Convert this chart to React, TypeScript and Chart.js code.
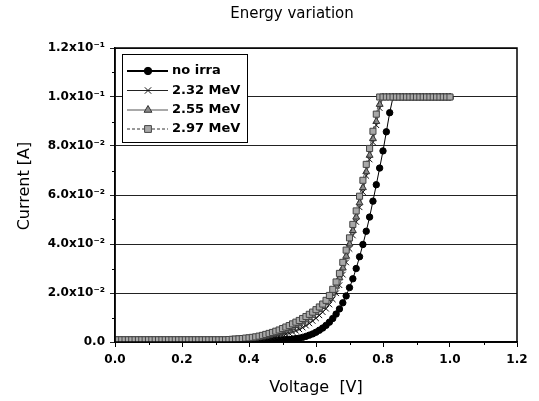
import React, { useEffect, useRef } from "react";
import { Chart, registerables } from "chart.js";
import { drawPoint } from "chart.js/helpers";

Chart.register(...registerables);

const chartTitle = "Energy variation";
const xTitle = "Voltage  [V]";
const yTitle = "Current [A]";

const voltage = [
  0.00, 0.01, 0.02, 0.03, 0.04, 0.05, 0.06, 0.07, 0.08, 0.09,
  0.10, 0.11, 0.12, 0.13, 0.14, 0.15, 0.16, 0.17, 0.18, 0.19,
  0.20, 0.21, 0.22, 0.23, 0.24, 0.25, 0.26, 0.27, 0.28, 0.29,
  0.30, 0.31, 0.32, 0.33, 0.34, 0.35, 0.36, 0.37, 0.38, 0.39,
  0.40, 0.41, 0.42, 0.43, 0.44, 0.45, 0.46, 0.47, 0.48, 0.49,
  0.50, 0.51, 0.52, 0.53, 0.54, 0.55, 0.56, 0.57, 0.58, 0.59,
  0.60, 0.61, 0.62, 0.63, 0.64, 0.65, 0.66, 0.67, 0.68, 0.69,
  0.70, 0.71, 0.72, 0.73, 0.74, 0.75, 0.76, 0.77, 0.78, 0.79,
  0.80, 0.81, 0.82, 0.83, 0.84, 0.85, 0.86, 0.87, 0.88, 0.89,
  0.90, 0.91, 0.92, 0.93, 0.94, 0.95, 0.96, 0.97, 0.98, 0.99,
  1.00,
];

const noIrra = [
  0.0006, 0.0006, 0.0006, 0.0006, 0.0006, 0.0006, 0.0006, 0.0006, 0.0006, 0.0006,
  0.0006, 0.0006, 0.0006, 0.0006, 0.0006, 0.0006, 0.0006, 0.0006, 0.0006, 0.0006,
  0.0006, 0.0006, 0.0006, 0.0006, 0.0006, 0.0006, 0.0006, 0.0006, 0.0006, 0.0006,
  0.0006, 0.0006, 0.0006, 0.0006, 0.0006, 0.0006, 0.0006, 0.0006, 0.0006, 0.0006,
  0.0006, 0.0006, 0.0006, 0.0006, 0.0006, 0.0006, 0.0007, 0.0007, 0.0008, 0.0008,
  0.0009, 0.0010, 0.0011, 0.0012, 0.0014, 0.0016, 0.0019, 0.0023, 0.0028, 0.0033,
  0.0040, 0.0048, 0.0057, 0.0068, 0.0081, 0.0096, 0.0114, 0.0135, 0.0160, 0.0188,
  0.0222, 0.0258, 0.0300, 0.0348, 0.0398, 0.0452, 0.0510, 0.0575, 0.0642, 0.0710,
  0.0780, 0.0858, 0.0936, 0.1, 0.1, 0.1, 0.1, 0.1, 0.1, 0.1,
  0.1, 0.1, 0.1, 0.1, 0.1, 0.1, 0.1, 0.1, 0.1, 0.1,
  0.1,
];

const mev232 = [
  0.0007, 0.0007, 0.0007, 0.0007, 0.0007, 0.0007, 0.0007, 0.0007, 0.0007, 0.0007,
  0.0007, 0.0007, 0.0007, 0.0007, 0.0007, 0.0007, 0.0007, 0.0007, 0.0007, 0.0007,
  0.0007, 0.0007, 0.0007, 0.0007, 0.0007, 0.0007, 0.0007, 0.0007, 0.0007, 0.0007,
  0.0007, 0.0007, 0.0007, 0.0007, 0.0007, 0.0007, 0.0008, 0.0008, 0.0009, 0.0009,
  0.0010, 0.0011, 0.0012, 0.0013, 0.0014, 0.0016, 0.0018, 0.0020, 0.0022, 0.0025,
  0.0028, 0.0032, 0.0036, 0.0041, 0.0046, 0.0052, 0.0059, 0.0067, 0.0076, 0.0086,
  0.0097, 0.0109, 0.0122, 0.0136, 0.0153, 0.0174, 0.0199, 0.0232, 0.0275, 0.0325,
  0.0380, 0.0435, 0.0490, 0.0550, 0.0612, 0.0678, 0.0745, 0.0815, 0.0885, 0.0955,
  0.1, 0.1, 0.1, 0.1, 0.1, 0.1, 0.1, 0.1, 0.1, 0.1,
  0.1, 0.1, 0.1, 0.1, 0.1, 0.1, 0.1, 0.1, 0.1, 0.1,
  0.1,
];

const mev255 = [
  0.0008, 0.0008, 0.0008, 0.0008, 0.0008, 0.0008, 0.0008, 0.0008, 0.0008, 0.0008,
  0.0008, 0.0008, 0.0008, 0.0008, 0.0008, 0.0008, 0.0008, 0.0008, 0.0008, 0.0008,
  0.0008, 0.0008, 0.0008, 0.0008, 0.0008, 0.0008, 0.0008, 0.0008, 0.0008, 0.0008,
  0.0008, 0.0008, 0.0008, 0.0008, 0.0008, 0.0009, 0.0009, 0.0010, 0.0011, 0.0012,
  0.0013, 0.0014, 0.0016, 0.0018, 0.0020, 0.0023, 0.0026, 0.0030, 0.0034, 0.0038,
  0.0043, 0.0048, 0.0054, 0.0060, 0.0067, 0.0074, 0.0082, 0.0090, 0.0099, 0.0109,
  0.0120, 0.0132, 0.0145, 0.0160, 0.0178, 0.0200, 0.0228, 0.0262, 0.0302, 0.0350,
  0.0400, 0.0455, 0.0510, 0.0568, 0.0630, 0.0695, 0.0762, 0.0830, 0.0900, 0.0970,
  0.1, 0.1, 0.1, 0.1, 0.1, 0.1, 0.1, 0.1, 0.1, 0.1,
  0.1, 0.1, 0.1, 0.1, 0.1, 0.1, 0.1, 0.1, 0.1, 0.1,
  0.1,
];

const mev297 = [
  0.0009, 0.0009, 0.0009, 0.0009, 0.0009, 0.0009, 0.0009, 0.0009, 0.0009, 0.0009,
  0.0009, 0.0009, 0.0009, 0.0009, 0.0009, 0.0009, 0.0009, 0.0009, 0.0009, 0.0009,
  0.0009, 0.0009, 0.0009, 0.0009, 0.0009, 0.0009, 0.0009, 0.0009, 0.0009, 0.0009,
  0.0009, 0.0009, 0.0009, 0.0009, 0.0010, 0.0011, 0.0012, 0.0013, 0.0014, 0.0016,
  0.0017, 0.0019, 0.0021, 0.0024, 0.0027, 0.0031, 0.0035, 0.0039, 0.0044, 0.0049,
  0.0055, 0.0061, 0.0067, 0.0074, 0.0081, 0.0088, 0.0096, 0.0104, 0.0113, 0.0122,
  0.0132, 0.0143, 0.0155, 0.0170, 0.0190, 0.0215, 0.0245, 0.0280, 0.0325, 0.0375,
  0.0425, 0.0480, 0.0535, 0.0595, 0.0660, 0.0725, 0.0790, 0.0860, 0.0930, 0.1,
  0.1, 0.1, 0.1, 0.1, 0.1, 0.1, 0.1, 0.1, 0.1, 0.1,
  0.1, 0.1, 0.1, 0.1, 0.1, 0.1, 0.1, 0.1, 0.1, 0.1,
  0.1,
];

const seriesNames = ["no irra", "2.32 MeV", "2.55 MeV", "2.97 MeV"];

const xTickLabels = ["0.0", "0.2", "0.4", "0.6", "0.8", "1.0", "1.2"];
const yTickLabels = [
  "0.0",
  "2.0x10\u207B\u00B2",
  "4.0x10\u207B\u00B2",
  "6.0x10\u207B\u00B2",
  "8.0x10\u207B\u00B2",
  "1.0x10\u207B\u00B9",
  "1.2x10\u207B\u00B9",
];

const toPoints = (ys: number[]) => voltage.map((v, i) => ({ x: v, y: ys[i] }));

const decorPlugin = {
  id: "decor",
  afterDraw(chart: any) {
    const { ctx, chartArea } = chart;
    const xs = chart.scales.x;
    const ys = chart.scales.y;
    ctx.save();
    // frame
    ctx.strokeStyle = "#000";
    ctx.lineWidth = 1.5;
    ctx.strokeRect(chartArea.left, chartArea.top, chartArea.right - chartArea.left, chartArea.bottom - chartArea.top);
    // minor ticks
    ctx.lineWidth = 1;
    for (let k = 1; k < 12; k += 2) {
      const v = k * 0.1;
      const px = Math.round(xs.getPixelForValue(v)) + 0.5;
      ctx.beginPath();
      ctx.moveTo(px, chartArea.bottom);
      ctx.lineTo(px, chartArea.bottom + 3);
      ctx.stroke();
    }
    for (let k = 1; k < 12; k += 2) {
      const v = k * 0.01;
      const py = Math.round(ys.getPixelForValue(v)) + 0.5;
      ctx.beginPath();
      ctx.moveTo(chartArea.left - 3, py);
      ctx.lineTo(chartArea.left, py);
      ctx.stroke();
    }
    // title
    ctx.fillStyle = "#000";
    ctx.font = '15px "DejaVu Sans"';
    ctx.textAlign = "center";
    ctx.textBaseline = "middle";
    ctx.fillText(chartTitle, 292, 14);

    // y axis title
    ctx.save();
    ctx.translate(25, 186);
    ctx.rotate(-Math.PI / 2);
    ctx.font = '16px "DejaVu Sans"';
    ctx.fillText(yTitle, 0, 0);
    ctx.restore();

    // legend
    const lx = 122, ly = 54, lw = 125, lh = 88;
    ctx.fillStyle = "#fff";
    ctx.fillRect(lx, ly, lw, lh);
    ctx.strokeStyle = "#000";
    ctx.lineWidth = 1;
    ctx.strokeRect(lx + 0.5, ly + 0.5, lw, lh);
    const rows = [71, 90.5, 110, 129];
    chart.data.datasets.forEach((ds: any, i: number) => {
      const y = rows[i];
      ctx.save();
      ctx.strokeStyle = ds.borderColor;
      ctx.lineWidth = ds.legendLineWidth;
      ctx.setLineDash(ds.borderDash || []);
      ctx.beginPath();
      ctx.moveTo(127, y);
      ctx.lineTo(168, y);
      ctx.stroke();
      ctx.restore();
      ctx.save();
      ctx.fillStyle = ds.pointBackgroundColor;
      ctx.strokeStyle = ds.pointBorderColor;
      ctx.lineWidth = ds.pointBorderWidth;
      drawPoint(ctx, { pointStyle: ds.pointStyle, radius: ds.pointRadius + 0.5, rotation: 0, borderWidth: ds.pointBorderWidth } as any, 148, y);
      ctx.restore();
      ctx.fillStyle = "#000";
      ctx.font = 'bold 13px "DejaVu Sans"';
      ctx.textAlign = "left";
      ctx.textBaseline = "middle";
      ctx.fillText(ds.label, 172, y);
    });
    ctx.restore();
  },
};

export default function App() {
  const ref = useRef<HTMLCanvasElement | null>(null);
  useEffect(() => {
    document.body.style.margin = "0";
    const canvas = ref.current;
    if (!canvas) return;
    const chart = new Chart(canvas, {
      type: "scatter",
      data: {
        datasets: [
          {
            label: seriesNames[0],
            data: toPoints(noIrra),
            showLine: true,
            borderColor: "#000",
            borderWidth: 1,
            legendLineWidth: 2,
            pointStyle: "circle",
            pointRadius: 3.2,
            pointBackgroundColor: "#000",
            pointBorderColor: "#000",
            pointBorderWidth: 1,
            order: 4,
          } as any,
          {
            label: seriesNames[1],
            data: toPoints(mev232),
            showLine: true,
            borderColor: "#222",
            borderWidth: 0.8,
            legendLineWidth: 1,
            pointStyle: "crossRot",
            pointRadius: 4,
            pointBackgroundColor: "#000",
            pointBorderColor: "#111",
            pointBorderWidth: 1,
            order: 3,
          } as any,
          {
            label: seriesNames[2],
            data: toPoints(mev255),
            showLine: true,
            borderColor: "#555",
            borderWidth: 0.8,
            legendLineWidth: 1,
            pointStyle: "triangle",
            pointRadius: 4,
            pointBackgroundColor: "#8a8a8a",
            pointBorderColor: "#333",
            pointBorderWidth: 1,
            order: 2,
          } as any,
          {
            label: seriesNames[3],
            data: toPoints(mev297),
            showLine: true,
            borderColor: "#333",
            borderWidth: 0.8,
            borderDash: [3, 2],
            legendLineWidth: 1,
            pointStyle: "rect",
            pointRadius: 4.3,
            pointBackgroundColor: "#a8a8a8",
            pointBorderColor: "#444",
            pointBorderWidth: 1,
            order: 1,
          } as any,
        ],
      },
      options: {
        animation: false,
        responsive: false,
        devicePixelRatio: 1,
        layout: { padding: { top: 48, right: 22, left: 0, bottom: 0 } },
        plugins: {
          legend: { display: false },
          title: { display: false },
          tooltip: { enabled: false },
        },
        scales: {
          x: {
            type: "linear",
            min: 0,
            max: 1.2,
            afterFit: (s: any) => {
              s.height = 59;
            },
            ticks: {
              stepSize: 0.2,
              padding: 6,
              color: "#000",
              font: { family: "DejaVu Sans", size: 12, weight: "bold" },
              callback: (_v: any, i: number) => xTickLabels[i],
              maxRotation: 0,
            },
            grid: {
              drawOnChartArea: false,
              drawTicks: true,
              tickLength: 5,
              color: "#000",
              lineWidth: 1,
            },
            border: { display: true, color: "#000", width: 1.5 },
            title: {
              display: true,
              text: xTitle,
              color: "#000",
              font: { family: "DejaVu Sans", size: 16 },
              padding: { top: 0, bottom: 4 },
            },
          },
          y: {
            type: "linear",
            min: 0,
            max: 0.12,
            afterFit: (s: any) => {
              s.width = 115;
            },
            ticks: {
              stepSize: 0.02,
              padding: 5,
              color: "#000",
              font: { family: "DejaVu Sans", size: 12, weight: "bold" },
              callback: (_v: any, i: number) => yTickLabels[i],
            },
            grid: {
              drawOnChartArea: true,
              drawTicks: true,
              tickLength: 5,
              color: "#222",
              lineWidth: 1,
            },
            border: { display: true, color: "#000", width: 1.5 },
            title: { display: false },
          },
        },
      } as any,
      plugins: [decorPlugin],
    });
    return () => chart.destroy();
  }, []);
  return <canvas ref={ref} width={539} height={401} style={{ display: "block" }} />;
}
